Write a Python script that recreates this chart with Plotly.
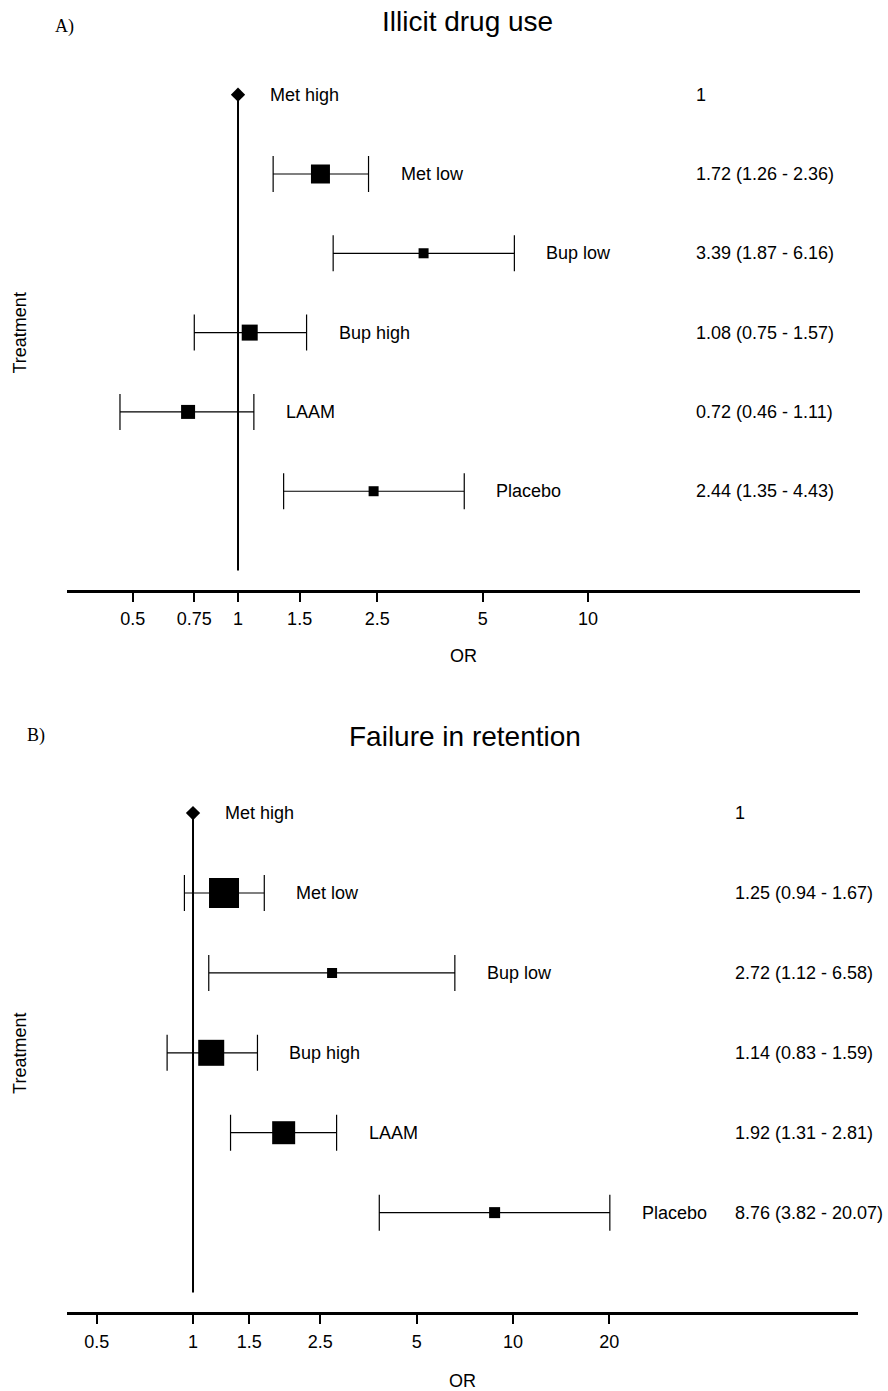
import math
import plotly.graph_objects as go

# ---------------- data ----------------
treatments = ["Met high", "Met low", "Bup low", "Bup high", "LAAM", "Placebo"]
row_pos = [6, 5, 4, 3, 2, 1]

a_or = [1.00, 1.72, 3.39, 1.08, 0.72, 2.44]
a_lo = [1.00, 1.26, 1.87, 0.75, 0.46, 1.35]
a_hi = [1.00, 2.36, 6.16, 1.57, 1.11, 4.43]

b_or = [1.00, 1.25, 2.72, 1.14, 1.92, 8.76]
b_lo = [1.00, 0.94, 1.12, 0.83, 1.31, 3.82]
b_hi = [1.00, 1.67, 6.58, 1.59, 2.81, 20.07]

a_ticks = [0.5, 0.75, 1, 1.5, 2.5, 5, 10]
a_ticktext = ["0.5", "0.75", "1", "1.5", "2.5", "5", "10"]
b_ticks = [0.5, 1, 1.5, 2.5, 5, 10, 20]
b_ticktext = ["0.5", "1", "1.5", "2.5", "5", "10", "20"]

# marker sizes (px) as drawn
a_msize = [11, 19, 10, 16, 14, 10]
b_msize = [11, 30, 10, 26, 23, 11]

W, H = 888, 1391
SANS = "Liberation Sans, Arial, sans-serif"
SERIF = "Liberation Serif, Times New Roman, serif"

fig = go.Figure()


def ci_text(o, l, h):
    if o == 1 and l == 1 and h == 1:
        return "1"
    return f"{o:.2f} ({l:.2f} - {h:.2f})"


def add_panel(xref, yref, ors, los, his, msizes, right_x):
    # reference line at OR = 1
    fig.add_trace(go.Scatter(x=[1, 1], y=[0, 6], mode="lines",
                             line=dict(color="black", width=2),
                             xaxis=xref, yaxis=yref, showlegend=False,
                             hoverinfo="skip"))
    # Met high (reference) diamond
    fig.add_trace(go.Scatter(x=[ors[0]], y=[row_pos[0]], mode="markers",
                             marker=dict(symbol="diamond", size=msizes[0], color="black"),
                             xaxis=xref, yaxis=yref, showlegend=False))
    for i in range(1, len(treatments)):
        fig.add_trace(go.Scatter(
            x=[ors[i]], y=[row_pos[i]], mode="markers",
            marker=dict(symbol="square", size=msizes[i], color="black"),
            error_x=dict(type="data", symmetric=False,
                         array=[his[i] - ors[i]], arrayminus=[ors[i] - los[i]],
                         color="black", thickness=1.2, width=18),
            xaxis=xref, yaxis=yref, showlegend=False))
    for i, t in enumerate(treatments):
        fig.add_annotation(x=math.log10(his[i]), y=row_pos[i],
                           xref=xref, yref=yref, text=t, showarrow=False,
                           xanchor="left", yanchor="middle", xshift=30,
                           font=dict(family=SANS, size=18, color="black"))
        fig.add_annotation(x=right_x, y=row_pos[i], xref="paper", yref=yref,
                           text=ci_text(ors[i], los[i], his[i]), showarrow=False,
                           xanchor="left", yanchor="middle",
                           font=dict(family=SANS, size=18, color="black"))


add_panel("x", "y", a_or, a_lo, a_hi, a_msize, 694 / W)
add_panel("x2", "y2", b_or, b_lo, b_hi, b_msize, 733 / W)

axis_common = dict(type="log", showgrid=False, zeroline=False, showline=True,
                   linecolor="black", linewidth=2.5, ticks="outside", ticklen=9,
                   tickwidth=1.5, tickcolor="black", ticklabelstandoff=2,
                   tickfont=dict(family=SANS, size=18, color="black"))
yaxis_common = dict(showgrid=False, zeroline=False, showline=False, showticklabels=False,
                    ticks="", title=dict(text="Treatment",
                                         font=dict(family=SANS, size=18, color="black"),
                                         standoff=34))
or_font = dict(family=SANS, size=18, color="black")

fig.update_layout(
    width=W, height=H, margin=dict(l=0, r=0, t=0, b=0),
    paper_bgcolor="white", plot_bgcolor="white",
    xaxis=dict(axis_common, domain=[67 / W, 860 / W], range=[-0.4886, 1.7771],
               tickvals=a_ticks, ticktext=a_ticktext, anchor="y",
               title=dict(text="OR", font=or_font, standoff=22)),
    yaxis=dict(yaxis_common, domain=[1 - 592 / H, 1 - 76 / H], range=[-0.2437, 6.2387],
               anchor="x"),
    xaxis2=dict(axis_common, domain=[67 / W, 858 / W], range=[-0.39375, 2.078],
                tickvals=b_ticks, ticktext=b_ticktext, anchor="y2",
                title=dict(text="OR", font=or_font, standoff=27)),
    yaxis2=dict(yaxis_common, domain=[1 - 1317 / H, 1 - 797 / H], range=[-0.2469, 6.2369],
                anchor="x2"),
)

# panel titles and letters
fig.add_annotation(x=467 / W, y=1 - 22 / H, xref="paper", yref="paper",
                   text="Illicit drug use", showarrow=False,
                   xanchor="center", yanchor="middle",
                   font=dict(family=SANS, size=28, color="black"))
fig.add_annotation(x=465 / W, y=1 - 739 / H, xref="paper", yref="paper",
                   text="Failure in retention", showarrow=False,
                   xanchor="center", yanchor="middle",
                   font=dict(family=SANS, size=28, color="black"))
fig.add_annotation(x=53 / W, y=1 - 27 / H, xref="paper", yref="paper",
                   text="A)", showarrow=False, xanchor="left", yanchor="middle",
                   font=dict(family=SERIF, size=18, color="black"))
fig.add_annotation(x=25 / W, y=1 - 738 / H, xref="paper", yref="paper",
                   text="B)", showarrow=False, xanchor="left", yanchor="middle",
                   font=dict(family=SERIF, size=18, color="black"))

fig.write_html(
    "out.html",
    config={"displayModeBar": False},
    post_script="document.body.style.margin='0';document.body.style.overflow='hidden';",
)
